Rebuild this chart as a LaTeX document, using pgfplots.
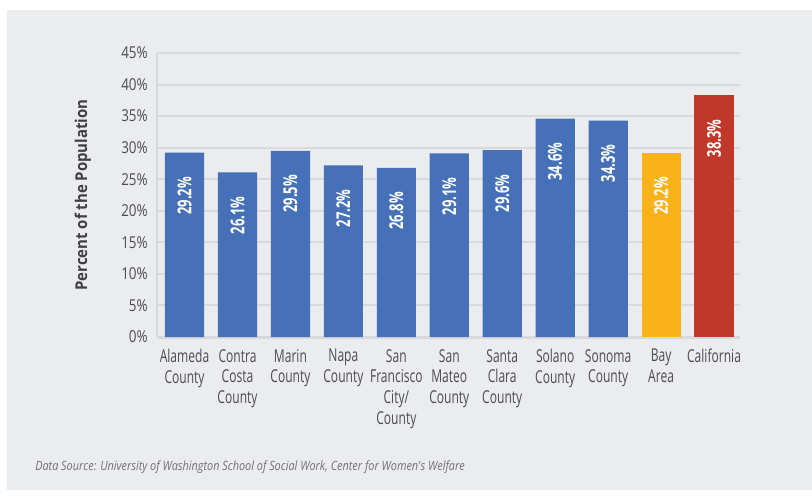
\documentclass[border=0pt]{standalone}
\usepackage{fontspec}
\setmainfont{Open Sans}[FakeStretch=0.68]
\newfontfamily\tickfont{Open Sans}[FakeStretch=0.82]
\newfontfamily\labfont{Open Sans}[FakeStretch=0.92]
\newfontfamily\srcfont{Open Sans}[FakeStretch=0.85]
\usepackage{pgfplots}
\pgfplotsset{compat=1.18}

\definecolor{bg}{RGB}{235,236,238}
\definecolor{gridgray}{RGB}{216,217,221}
\definecolor{txtgray}{RGB}{77,77,80}
\definecolor{labgray}{RGB}{64,64,66}
\definecolor{srcgray}{RGB}{112,112,118}
\definecolor{barblue}{RGB}{70,113,185}
\definecolor{baryellow}{RGB}{250,178,26}
\definecolor{barred}{RGB}{193,55,41}

\begin{document}
\begin{tikzpicture}[x=0.75pt,y=0.75pt]
% picture frame in px (axis origin at lower left of plot area)
\useasboundingbox (-157,-163) rectangle (655,337);
\fill[white] (-157,-163) rectangle (655,337);
\fill[bg] (-150,-153) rectangle (655,327);

\begin{axis}[
    at={(0,0)}, anchor=south west,
    scale only axis,
    width=437.25pt, height=213pt,
    ybar, bar width=0.74,
    xmin=-0.52, xmax=10.49,
    ymin=0, ymax=45,
    ytick={0,5,...,45},
    xtick={0,...,10},
    xticklabels={Alameda\\County, Contra\\Costa\\County, Marin\\County, Napa\\County,
        San\\Francisco\\City/\\County, San\\Mateo\\County, Santa\\Clara\\County,
        Solano\\County, Sonoma\\County, Bay\\Area, California},
    yticklabel={\pgfmathprintnumber[assume math mode=true]{\tick}\%},
    major tick length=0pt,
    tick style={draw=none},
    ymajorgrids,
    grid style={draw=gridgray, line width=1.5pt},
    axis x line=bottom, axis y line=left,
    axis line style={-, draw=gridgray},
    x axis line style={line width=2.25pt},
    y axis line style={line width=1.9pt},
    yticklabel style={font=\tickfont\fontsize{12.3}{14}\selectfont, text=txtgray,
        anchor=east, inner sep=0pt, xshift=-6.75pt},
    xticklabel style={font=\fontsize{13.3}{15.5}\selectfont, text=txtgray,
        align=center, anchor=north, inner sep=0pt, yshift=-9pt},
    ylabel={Percent of the Population},
    every axis y label/.style={at={(axis description cs:-0.127,0.5)},
        anchor=center, rotate=90,
        font=\labfont\bfseries\fontsize{12.2}{14}\selectfont, text=labgray},
    nodes near coords={\pgfmathprintnumber[fixed, fixed zerofill, precision=1,
        assume math mode=true]{\pgfplotspointmeta}\%},
    every node near coord/.style={anchor=east, rotate=90, inner sep=0pt,
        xshift=-18pt, text=white,
        font=\bfseries\fontsize{14.3}{16}\selectfont},
    clip=false,
]
\addplot[fill=barblue, draw=none, bar shift=0pt] coordinates {
    (0,29.2) (1,26.1) (2,29.5) (3,27.2) (4,26.8)
    (5,29.1) (6,29.6) (7,34.6) (8,34.3)
};
\addplot[fill=baryellow, draw=none, bar shift=0pt] coordinates {(9,29.2)};
\addplot[fill=barred, draw=none, bar shift=0pt] coordinates {(10,38.3)};
\end{axis}

\node[anchor=base west, inner sep=0pt, text=srcgray,
      font=\srcfont\itshape\fontsize{9.6}{11.5}\selectfont] at (-122,-133.7)
    {Data Source: University of Washington School of Social Work, Center for Women's Welfare};
\end{tikzpicture}
\end{document}
